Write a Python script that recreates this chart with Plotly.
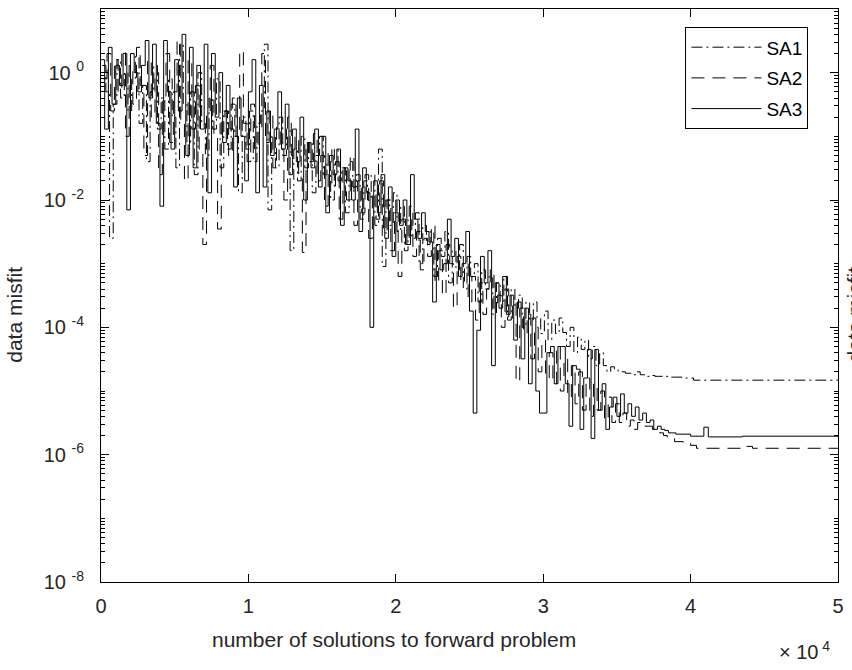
import numpy as np
import plotly.graph_objects as go

# ---------------- data ----------------
STEP = 250  # evaluations between recorded best-misfit updates

sa1_offset = 80
sa1_noisy = [
    1.3, 5e-1, 2.5e-3, 3.2e-1, 1.6, 4e-1, 1, 2.5e-1, 8e-1, 1.8,
    1.6e-1, 6.3e-1, 4e-2, 5e-1, 1.3, 1.3e-1, 4e-1, 6.3e-2, 8e-1, 2e-1,
    3.2e-2, 2.8, 3.2e-1, 8e-2, 5e-1, 2.5e-2, 1, 1.6e-1, 5e-2, 4e-1,
    1.3e-1, 8e-1, 3.2e-2, 2.5e-1, 6.3e-2, 3.2e-1, 1e-1, 1.3e-2, 2e-1, 6.3e-2,
    2.5e-1, 4e-2, 1.6e-1, 2.5e-1, 2.8, 7e-3, 1e-1, 3.2e-2, 2e-1, 5e-2,
    1.3e-1, 1.6e-3, 6.3e-2, 2e-2, 1e-1, 3.2e-2, 8e-2, 1.3e-2, 5e-2, 1e-1,
    2.5e-2, 4e-2, 1e-2, 6.3e-2, 2e-2, 3.2e-2, 6.3e-3, 4e-2, 1.6e-2, 2.5e-2,
    5e-3, 2e-2, 1e-2, 2.5e-2, 4e-3, 6.3e-2, 9e-4, 1e-2, 4e-3, 1.3e-2,
    3.2e-3, 8e-3, 1.6e-3, 5e-3, 2.5e-3, 6.3e-3, 1e-3, 4e-3, 2e-3, 3.2e-3,
    6.3e-4, 2.5e-3, 1.3e-3, 3.2e-3, 5e-4, 1.6e-3, 8e-4, 2e-3, 4e-4, 1.3e-3,
    6.3e-4, 1e-3, 2.5e-4, 8e-4, 4e-4, 6.3e-4, 1.6e-4, 5e-4, 2.5e-4, 6.3e-4,
    1.3e-4, 4e-4, 2e-4, 3.2e-4, 1e-4, 2.5e-4, 1.3e-4, 2.5e-4, 1.4e-4, 8e-5,
    1.8e-4, 6.3e-5, 1.3e-4, 8e-5, 1.4e-4, 8.3e-5, 5e-5, 1e-4, 4e-5, 7e-5,
    4.5e-5, 6.3e-5, 3.2e-5, 5e-5, 2.5e-5, 4e-5, 2.5e-5, 2e-5, 2.4e-5, 2.2e-5,
    2e-5, 2e-5, 1.9e-5, 1.9e-5, 1.8e-5, 2e-5, 1.8e-5, 1.8e-5, 1.7e-5, 1.75e-5,
    1.7e-5, 1.7e-5, 1.72e-5, 1.7e-5, 1.65e-5, 1.65e-5,
]
sa1_tail_x = [39600, 40200, 50000]
sa1_tail_y = [1.6e-5, 1.48e-5, 1.48e-5]

sa2_offset = 160
sa2_noisy = [
    8e-1, 2, 2.5e-1, 1.6, 5e-1, 2.2, 1e-1, 1.3, 3.2e-1, 2.5,
    6.3e-1, 5e-2, 1.6, 2e-1, 1, 2.5e-2, 4e-1, 2, 8e-2, 5e-1,
    3.2, 1.6e-1, 2e-2, 1.6, 1.3e-1, 6.3e-1, 6.3e-2, 2e-3, 2.5e-1, 1.3,
    1e-1, 3.5e-3, 2e-1, 2.5e-1, 5e-2, 4e-1, 1e-1, 2.2, 1.6e-1, 4e-2,
    3.2e-1, 6.3e-2, 1.3e-1, 2, 8e-2, 2.5e-1, 3.2e-2, 1.4e-1, 6.3e-2, 1e-2,
    2e-1, 5e-2, 1e-1, 2.5e-2, 1.5e-3, 8e-2, 4e-2, 1.1e-1, 2e-2, 5e-2,
    8e-3, 6.3e-2, 1.6e-2, 4e-2, 5e-3, 3.2e-2, 1e-2, 5e-2, 4e-3, 2e-2,
    6.3e-3, 2.5e-2, 2.5e-3, 1.3e-2, 5e-3, 2e-2, 3.2e-3, 1e-2, 1.6e-3, 6.3e-3,
    6.3e-4, 5e-3, 2e-3, 8e-3, 1.3e-3, 3.2e-3, 8e-4, 2.5e-3, 1.3e-3, 4e-3,
    5e-4, 1.6e-3, 3.2e-4, 2e-3, 1e-3, 2e-4, 1.3e-3, 5e-4, 1e-3, 2.5e-4,
    6.3e-4, 1.3e-4, 5e-4, 1.6e-4, 4e-4, 8e-4, 2e-4, 3.2e-4, 1e-4, 4e-4,
    1.3e-4, 2.5e-4, 1.4e-5, 2e-4, 8e-5, 1.6e-4, 3.2e-5, 1e-4, 2e-5, 6.3e-5,
    1.6e-5, 4e-5, 1.3e-5, 5e-5, 1e-5, 3.2e-5, 8e-6, 2.5e-5, 6.3e-6, 2e-5,
    5e-6, 1.6e-5, 4e-6, 1.3e-5, 5e-6, 1e-5, 3.5e-6, 8e-6, 3.2e-6, 6.3e-6,
    3.2e-6, 4.5e-6, 2.8e-6, 3.5e-6, 2.5e-6, 3.2e-6, 3.2e-6, 2.8e-6, 2.8e-6, 2.5e-6,
    2.4e-6, 2.2e-6, 2e-6, 1.9e-6, 1.8e-6, 1.6e-6,
]
sa2_tail_x = [39500, 40000, 40400, 43700, 44200, 50000]
sa2_tail_y = [1.5e-6, 1.4e-6, 1.26e-6, 1.35e-6, 1.26e-6, 1.26e-6]

sa3_offset = 0
sa3_noisy = [
    1.6, 1.3e-1, 2.5, 3.2e-1, 1.3, 6.3e-1, 2, 7e-3, 2, 1,
    5e-1, 1.3, 3.2, 4e-1, 2.8, 1.6e-1, 8e-3, 3.2, 5e-1, 6.3e-2,
    1.6, 2.5e-1, 4, 5e-2, 2.5, 3.2e-2, 1.3, 1.3e-1, 2.8, 1.3e-2,
    2, 2e-1, 1, 8e-2, 6.3e-1, 1.3e-1, 1.6e-2, 4e-1, 1e-1, 2e-2,
    5e-1, 1.6, 1.3e-2, 6.3e-1, 1.6e-2, 2.5e-1, 5e-2, 1.3e-1, 5e-1, 6.3e-2,
    3.2e-1, 2.5e-2, 1.3e-1, 4e-2, 2e-1, 1e-2, 8e-2, 3.2e-2, 1.3e-1, 1.6e-2,
    1e-1, 6.3e-3, 5e-2, 2.5e-2, 6.3e-2, 4e-3, 3.2e-2, 2e-2, 1e-2, 1.3e-1,
    3.2e-3, 3.2e-2, 1.3e-2, 1e-4, 2e-2, 6.3e-3, 2.5e-2, 2.5e-3, 1.6e-2, 1.3e-3,
    1e-2, 4e-3, 1e-2, 2e-3, 2.5e-2, 5e-3, 2.5e-3, 6.3e-3, 3.2e-3, 2.2e-3,
    2.5e-4, 2e-3, 8e-4, 1e-3, 5e-3, 1.3e-3, 2.5e-3, 6.3e-4, 1e-3, 3.2e-3,
    1.8e-4, 4.5e-6, 9e-5, 1.3e-3, 5e-4, 1.6e-3, 2.5e-5, 5e-4, 2e-4, 6.3e-4,
    1.6e-4, 3.2e-4, 6.3e-5, 2.5e-4, 3.2e-5, 2e-4, 1.3e-5, 1.4e-4, 1e-5, 4.5e-6,
    4.5e-6, 4e-5, 5e-5, 1.3e-5, 5e-5, 5e-5, 1.3e-5, 2.8e-6, 2.5e-5, 2.2e-5,
    2.5e-6, 1.6e-5, 4.5e-5, 1.8e-6, 4.5e-5, 5e-6, 1.3e-5, 2.5e-6, 5.6e-6, 8e-6,
    4e-6, 9e-6, 4.5e-6, 6.3e-6, 4e-6, 5.6e-6, 3.5e-6, 4.5e-6, 3.2e-6, 3.5e-6,
    2.5e-6, 2.8e-6, 2.5e-6, 2.4e-6, 2.2e-6, 2.2e-6,
]
sa3_tail_x = [39000, 40000, 40900, 41200, 43500, 50000]
sa3_tail_y = [2.1e-6, 1.95e-6, 2.7e-6, 1.9e-6, 1.95e-6, 1.9e-6]

x_tick_vals = [0, 10000, 20000, 30000, 40000, 50000]
x_tick_text = ["0", "1", "2", "3", "4", "5"]
y_tick_vals = [1e-8, 1e-6, 1e-4, 1e-2, 1]
y_tick_text = ["10 <sup>-8</sup>", "10 <sup>-6</sup>", "10 <sup>-4</sup>",
               "10 <sup>-2</sup>", "10 <sup>0</sup>"]


def series_x(noisy, offset, tail_x):
    return [offset + i * STEP for i in range(len(noisy))] + list(tail_x)


series = [
    ("SA1", series_x(sa1_noisy, sa1_offset, sa1_tail_x), sa1_noisy + sa1_tail_y, "11px,4px,2px,4px"),
    ("SA2", series_x(sa2_noisy, sa2_offset, sa2_tail_x), sa2_noisy + sa2_tail_y, "13px,8px"),
    ("SA3", series_x(sa3_noisy, sa3_offset, sa3_tail_x), sa3_noisy + sa3_tail_y, "solid"),
]

# minor ticks for log axis
minor_vals = []
for d in range(-8, 1):
    for k in range(1, 10):
        v = k * 10.0 ** d
        if k == 1 and d % 2 == 0:
            continue
        minor_vals.append(v)

FONT = "Liberation Sans, Arial, Helvetica, sans-serif"
TXT = "#262626"

fig = go.Figure()
for i, (name, xs, ys, dash) in enumerate(series):
    fig.add_trace(go.Scatter(
        x=xs, y=ys, name=name, mode="lines",
        line=dict(color="black", width=1, dash=dash, shape="hv"),
        legendgroup=name,
    ))

fig.update_layout(
    width=852, height=670,
    margin=dict(l=101, r=11, t=8, b=88),
    plot_bgcolor="white", paper_bgcolor="white",
    font=dict(family=FONT, size=20, color="black"),
    showlegend=True,
    legend=dict(
        x=0.793, y=0.968, xanchor="left", yanchor="top",
        bgcolor="white", bordercolor="black", borderwidth=1,
        font=dict(family=FONT, size=19, color="black"),
        itemwidth=70, tracegroupgap=3,
    ),
    xaxis=dict(
        range=[0, 50000], tickmode="array", tickvals=x_tick_vals, ticktext=x_tick_text,
        ticks="inside", ticklen=8, tickcolor="black", tickwidth=1,
        showline=True, linecolor="black", linewidth=1, mirror="ticks",
        showgrid=False, zeroline=False, ticklabelstandoff=6,
        tickfont=dict(family=FONT, size=20, color=TXT),
    ),
    yaxis=dict(
        type="log", range=[-8, 1], tickmode="array", tickvals=y_tick_vals, ticktext=y_tick_text,
        ticks="inside", ticklen=8, tickcolor="black", tickwidth=1,
        showline=True, linecolor="black", linewidth=1, mirror="ticks",
        showgrid=False, zeroline=False, ticklabelstandoff=12,
        tickfont=dict(family=FONT, size=20, color=TXT),
        minor=dict(tickmode="array", tickvals=minor_vals, ticks="inside", ticklen=4,
                   tickcolor="black", tickwidth=1, showgrid=False),
    ),
    annotations=[
        dict(text="number of solutions to forward problem", xref="paper", yref="paper",
             x=0.397, y=-0.101, xanchor="center", yanchor="middle", showarrow=False,
             font=dict(family=FONT, size=21, color=TXT)),
        dict(text="data misfit", xref="paper", yref="paper", textangle=-90,
             x=-0.1176, y=0.467, xanchor="center", yanchor="middle", showarrow=False,
             font=dict(family=FONT, size=21, color=TXT)),
        dict(text="data misfit", xref="paper", yref="paper", textangle=-90,
             x=1.022, y=0.467, xanchor="center", yanchor="middle", showarrow=False,
             font=dict(family=FONT, size=21, color=TXT)),
        dict(text="× 10<sup> 4</sup>", xref="paper", yref="paper",
             x=0.955, y=-0.12, xanchor="center", yanchor="middle", showarrow=False,
             font=dict(family=FONT, size=20, color=TXT)),
    ],
)

fig.write_html("out.html")
